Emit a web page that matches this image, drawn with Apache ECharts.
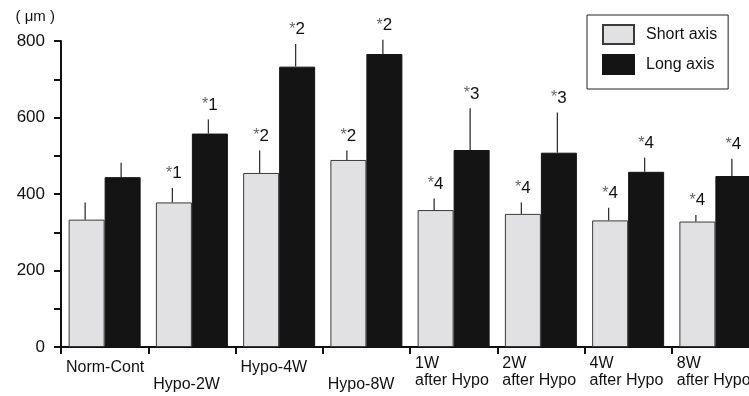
<!DOCTYPE html>
<html>
<head>
<meta charset="utf-8">
<script src="https://cdn.jsdelivr.net/npm/echarts@6/dist/echarts.min.js"></script>
<style>
  html, body { margin: 0; padding: 0; background: #fff; }
  #chart { width: 749px; height: 396px; }
</style>
</head>
<body>
<div id="chart"></div>
<script>
// Group labels (two-line labels use "\n")
const categories = ['Norm-Cont', 'Hypo-2W', 'Hypo-4W', 'Hypo-8W',
  '1W\nafter Hypo', '2W\nafter Hypo', '4W\nafter Hypo', '8W\nafter Hypo'];

// Mean diameters (μm) and standard deviations
const shortMean = [333, 378, 455, 489, 358, 348, 331, 328];
const shortSD   = [45, 38, 59, 25, 30, 30, 33, 17];
const longMean  = [444, 558, 733, 766, 515, 508, 458, 447];
const longSD    = [38, 37, 59, 37, 109, 105, 37, 45];

// Significance marks drawn above each error bar ('' = none)
const shortMarks = ['', '1', '2', '2', '4', '4', '4', '4'];
const longMarks  = ['', '1', '2', '2', '3', '3', '4', '4'];

const FONT = "'Liberation Sans', Arial, Helvetica, sans-serif";
const BAR_W = 36;

function errorSeries(mean, sd, marks, side) {
  const data = mean.map((m, i) => [i, m, m + sd[i]]);
  return {
    type: 'custom',
    xAxisIndex: 0,
    yAxisIndex: 0,
    z: 3,
    silent: true,
    data: data,
    renderItem: function (params, api) {
      const i = api.value(0);
      const base = api.coord([i, api.value(1)]);
      const top = api.coord([i, api.value(2)]);
      const x = base[0] + side * BAR_W / 2 - 1.5;
      const mark = marks[i];
      const children = [{
        type: 'line',
        shape: { x1: x, y1: base[1], x2: x, y2: top[1] },
        style: { stroke: '#333', lineWidth: 1.3 }
      }];
      if (mark) {
        children.push({
          type: 'text',
          x: x + 1.5,
          y: top[1] - 6,
          style: {
            text: '{a|*}{d|' + mark + '}',
            align: 'center',
            verticalAlign: 'bottom',
            rich: {
              a: { fontSize: 16, fontFamily: FONT, fill: '#666' },
              d: { fontSize: 17, fontFamily: FONT, fill: '#111' }
            }
          }
        });
      }
      return { type: 'group', children: children };
    }
  };
}

const chart = echarts.init(document.getElementById('chart'), null, { renderer: 'canvas' });

chart.setOption({
  animation: false,
  backgroundColor: '#fff',
  textStyle: { fontFamily: FONT },
  grid: { left: 61, top: 41, bottom: 49, right: -10, containLabel: false, outerBoundsMode: 'none' },
  legend: {
    data: ['Short axis', 'Long axis'],
    orient: 'vertical',
    left: 587,
    top: 15,
    padding: [9, 11, 14, 15],
    borderColor: '#222',
    borderWidth: 1,
    itemWidth: 31,
    itemHeight: 19,
    itemGap: 9,
    icon: 'rect',
    selectedMode: false,
    textStyle: { fontSize: 16, color: '#111', fontFamily: FONT, padding: [0, 0, 0, 7] }
  },
  xAxis: [
    {
      type: 'category',
      data: categories,
      boundaryGap: true,
      axisLine: { lineStyle: { color: '#111', width: 2 } },
      axisTick: { show: true, length: 7, lineStyle: { color: '#111', width: 2 } },
      axisLabel: { show: false },
      splitLine: { show: false }
    },
    {
      // Label track: labels sit just right of each group's left tick
      type: 'category',
      data: categories.concat(['']),
      boundaryGap: false,
      position: 'bottom',
      axisLine: { show: false },
      axisTick: { show: false },
      splitLine: { show: false },
      axisLabel: {
        interval: 0,
        align: 'left',
        margin: 12,
        padding: [0, 0, 0, 5],
        color: '#111',
        fontSize: 16,
        fontFamily: FONT,
        formatter: function (value, idx) {
          if (!value) return '';
          if (value.indexOf('\n') >= 0) {
            const parts = value.split('\n');
            return '{u|' + parts[0] + '}\n{w|' + parts[1] + '}';
          }
          return idx % 2 === 1 ? '{n| }\n{n|' + value + '}' : '{n|' + value + '}';
        },
        rich: {
          n: { lineHeight: 17, fontSize: 16, fontFamily: FONT, color: '#111' },
          u: { lineHeight: 10, fontSize: 16, fontFamily: FONT, color: '#111' },
          w: { lineHeight: 24, fontSize: 16, fontFamily: FONT, color: '#111' }
        }
      }
    }
  ],
  yAxis: {
    type: 'value',
    min: 0,
    max: 800,
    interval: 200,
    name: '( μm )',
    nameLocation: 'end',
    nameGap: 17,
    nameTextStyle: { fontSize: 15, color: '#111', fontFamily: FONT, align: 'right', padding: [0, 6, 0, 0] },
    axisLine: { show: true, lineStyle: { color: '#111', width: 2 } },
    axisTick: { show: true, length: 7, lineStyle: { color: '#111', width: 2 } },
    minorTick: { show: true, splitNumber: 2, length: 7, lineStyle: { color: '#111', width: 2 } },
    axisLabel: { margin: 16, fontSize: 17, color: '#111', fontFamily: FONT },
    splitLine: { show: false }
  },
  series: [
    {
      name: 'Short axis',
      type: 'bar',
      xAxisIndex: 0,
      barWidth: BAR_W,
      barGap: '0%',
      data: shortMean,
      itemStyle: { color: '#e1e1e3', borderColor: '#3a3a3a', borderWidth: 1 }
    },
    {
      name: 'Long axis',
      type: 'bar',
      xAxisIndex: 0,
      barWidth: BAR_W,
      barGap: '0%',
      data: longMean,
      itemStyle: { color: '#141414', borderColor: '#141414', borderWidth: 1 }
    },
    errorSeries(shortMean, shortSD, shortMarks, -1),
    errorSeries(longMean, longSD, longMarks, 1)
  ]
});
</script>
</body>
</html>
